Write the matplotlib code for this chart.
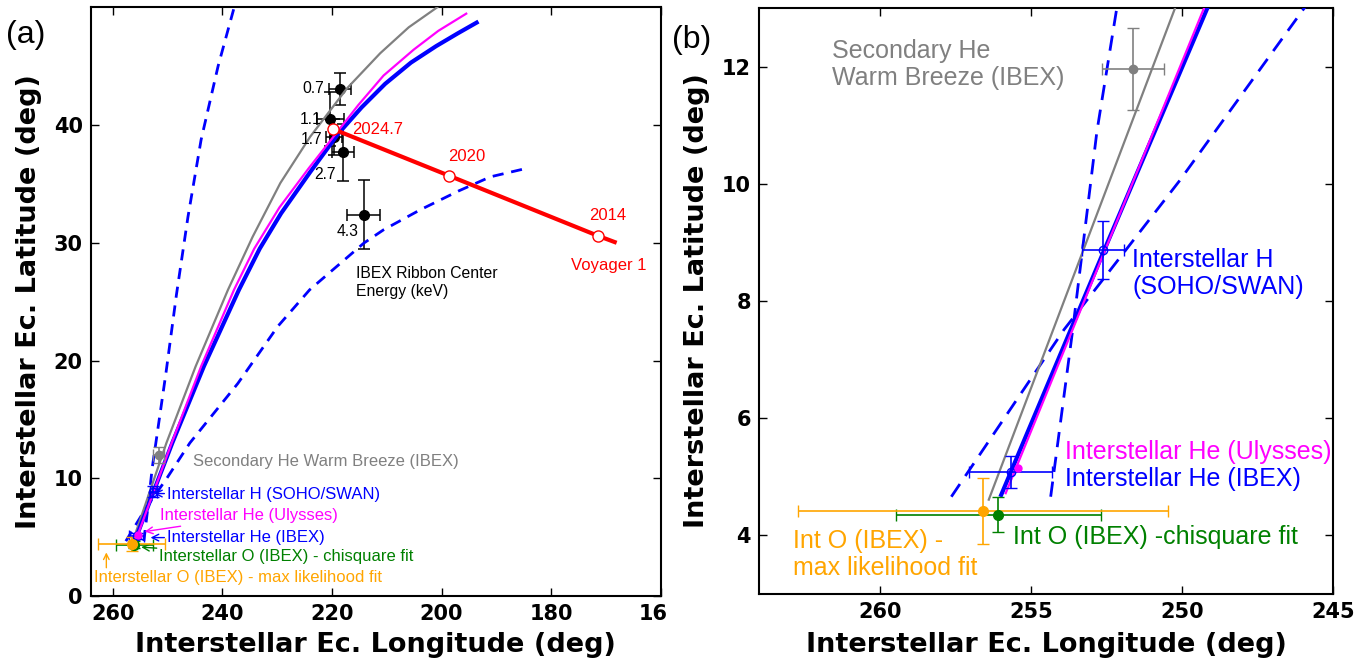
import matplotlib
matplotlib.use('Agg')
import matplotlib.pyplot as plt
from matplotlib.patches import Rectangle

SANS = ['Liberation Sans Narrow', 'Liberation Sans', 'DejaVu Sans']

# B-V plane traces, ecliptic (lon, lat) in deg
he_lon = [255.99, 252.55, 249.16, 243.4, 237.0, 233.2, 229.3, 224.0, 218.8, 214.6, 210.3,
          205.6, 201.0, 197.0, 193.6]
he_lat = [4.69, 8.9, 13.0, 19.5, 26.0, 29.5, 32.5, 36.0, 39.3, 41.5, 43.5,
          45.3, 46.7, 47.8, 48.7]
uly_lon = [255.84, 249.27, 243.9, 237.9, 234.2, 229.6, 224.3, 219.7, 215.2, 210.6, 205.1,
           200.6, 195.5]
uly_lat = [4.72, 13.0, 19.5, 26.0, 29.5, 33.0, 36.3, 39.03, 41.7, 44.2, 46.4,
           48.0, 49.46]
wb_lon = [256.40, 250.23, 244.9, 239.0, 234.5, 229.44, 224.0, 217.3, 211.2, 206.0, 200.8]
wb_lat = [4.61, 13.0, 19.5, 26.0, 30.5, 35.07, 39.0, 43.1, 46.1, 48.3, 50.0]
# uncertainty bounds of the He plane
bnd1_lon = [254.35, 253.62, 252.82, 252.16, 250.3, 248.4, 246.3, 243.9, 240.8, 237.8]
bnd1_lat = [4.66, 7.51, 10.89, 13.0, 19.0, 25.6, 32.2, 38.75, 45.0, 50.1]
bnd2_lon = [257.64, 253.91, 250.1, 245.95, 237.2, 229.9, 224.1, 214.2, 210.6, 203.9, 196.9,
            191.1, 184.7]
bnd2_lat = [4.66, 7.51, 10.04, 13.0, 18.05, 22.9, 26.0, 29.97, 31.1, 32.8, 34.4,
            35.6, 36.3]

# IBEX ribbon center vs energy (keV)
rib_energy = ['0.7', '1.1', '1.7', '2.7', '4.3']
rib_lon = [218.6, 220.3, 219.6, 218.0, 214.2]
rib_lat = [43.06, 40.5, 38.98, 37.67, 32.38]
rib_dlon = [2.0, 2.4, 1.5, 2.0, 3.0]
rib_dlat = [1.4, 2.3, 1.5, 2.4, 2.95]

# Voyager 1 direction track
v1_year = ['2024.7', '2020', '2014']
v1_lon = [219.8, 198.6, 171.5]
v1_lat = [39.66, 35.69, 30.6]
v1_track_lon = [219.8, 198.6, 171.5, 168.4]
v1_track_lat = [39.66, 35.69, 30.6, 30.06]

# interstellar flow directions: lon, lat, dlon, dlat
wb_pt = [251.62, 11.96, 1.03, 0.70]
h_pt = [252.61, 8.87, 0.70, 0.50]
he_pt = [255.68, 5.08, 1.37, 0.27]
uly_pt = [255.42, 5.15]
o_chi_pt = [256.08, 4.35, 3.40, 0.30]
o_ml_pt = [256.58, 4.42, 6.13, 0.56]

ORANGE = '#FFA500'
GREEN = '#008000'
GRAY = '#808080'


def draw_marks(ax, dash):
    ax.plot(bnd1_lon, bnd1_lat, color='blue', lw=2.0, dashes=dash, zorder=3)
    ax.plot(bnd2_lon, bnd2_lat, color='blue', lw=2.0, dashes=dash, zorder=3)
    ax.plot(wb_lon, wb_lat, color=GRAY, lw=1.6, zorder=3)
    ax.plot(he_lon, he_lat, color='blue', lw=3.0, zorder=3)
    ax.plot(uly_lon, uly_lat, color='magenta', lw=1.6, zorder=3)

    ax.errorbar(rib_lon, rib_lat, xerr=rib_dlon, yerr=rib_dlat, fmt='o', color='black',
                ms=7, capsize=4, elinewidth=1.1, capthick=1.1, zorder=2)

    ax.plot(v1_track_lon, v1_track_lat, color='red', lw=3.0, zorder=4)
    ax.plot(v1_lon, v1_lat, 'o', mfc='white', mec='red', ms=8, mew=1.0, zorder=5)

    ax.errorbar(wb_pt[0], wb_pt[1], xerr=wb_pt[2], yerr=wb_pt[3], fmt='o', color=GRAY,
                ms=6, capsize=4, elinewidth=1.2, zorder=4)
    ax.errorbar(h_pt[0], h_pt[1], xerr=h_pt[2], yerr=h_pt[3], fmt='o', color='blue',
                mfc='none', ms=6, capsize=4, elinewidth=1.2, zorder=4)
    ax.errorbar(he_pt[0], he_pt[1], xerr=he_pt[2], yerr=he_pt[3], fmt='o', color='blue',
                mfc='none', ms=6, capsize=4, elinewidth=1.2, zorder=4)
    ax.plot(uly_pt[0], uly_pt[1], 'o', color='magenta', ms=5, zorder=5)
    ax.errorbar(o_chi_pt[0], o_chi_pt[1], xerr=o_chi_pt[2], yerr=o_chi_pt[3], fmt='o',
                color=GREEN, ms=7, capsize=4, elinewidth=1.2, zorder=4)
    ax.errorbar(o_ml_pt[0], o_ml_pt[1], xerr=o_ml_pt[2], yerr=o_ml_pt[3], fmt='o',
                color=ORANGE, ms=7, capsize=4, elinewidth=1.2, zorder=4)


def style_axes(ax, xlim, ylim, xticks, yticks, ylab_x, xlab_y):
    ax.set_xlim(*xlim)
    ax.set_ylim(*ylim)
    ax.set_xticks(xticks)
    ax.set_yticks(yticks)
    ax.tick_params(direction='in', top=True, right=True, length=6, width=1.0, pad=6,
                   labelsize=15)
    for lab in ax.get_xticklabels() + ax.get_yticklabels():
        lab.set_fontweight('bold')
    for sp in ax.spines.values():
        sp.set_linewidth(1.5)
    ax.set_xlabel('Interstellar Ec. Longitude (deg)', fontsize=19.5, fontweight='bold',
                  va='center')
    ax.set_ylabel('Interstellar Ec. Latitude (deg)', fontsize=19.5, fontweight='bold',
                  va='center')
    ax.xaxis.set_label_coords(0.5, xlab_y)
    ax.yaxis.set_label_coords(ylab_x, 0.5)


fig = plt.figure(figsize=(13.7, 6.67), dpi=100)
ax_a = fig.add_axes([91 / 1370, 1 - 596 / 667, 569.7 / 1370, 588.7 / 667])
ax_b = fig.add_axes([759.3 / 1370, 1 - 594 / 667, 573.7 / 1370, 586 / 667])

# ---- (a) full view
draw_marks(ax_a, (4.0, 2.8))
style_axes(ax_a, (264, 160), (0, 50), [260, 240, 220, 200, 180, 160], [0, 10, 20, 30, 40],
           -0.109, -0.083)

for e, x, y in zip(rib_energy, [221.5, 222.0, 221.8, 219.4, 215.1],
                   [43.08, 40.5, 38.8, 35.78, 30.96]):
    ax_a.text(x, y, e, ha='right', va='center', fontsize=11.3, family=SANS)
ax_a.text(215.56, 26.64, 'IBEX Ribbon Center\nEnergy (keV)', ha='left', va='center',
          fontsize=11.3, family=SANS)

ax_a.text(216.35, 39.66, v1_year[0], color='red', ha='left', va='center', fontsize=12,
          family=SANS)
ax_a.text(195.4, 37.33, v1_year[1], color='red', ha='center', va='center', fontsize=12,
          family=SANS)
ax_a.text(169.7, 32.3, v1_year[2], color='red', ha='center', va='center', fontsize=12,
          family=SANS)
ax_a.text(169.5, 28.07, 'Voyager 1', color='red', ha='center', va='center', fontsize=12,
          family=SANS)

ax_a.text(245.4, 11.42, 'Secondary He Warm Breeze (IBEX)', color=GRAY, ha='left',
          va='center', fontsize=12, family=SANS)
arr = dict(arrowstyle='->', lw=1.0, shrinkA=0, shrinkB=0)
ax_a.annotate('Interstellar H (SOHO/SWAN)', xy=(252.5, 8.71), xytext=(250.1, 8.59),
              color='blue', ha='left', va='center', fontsize=12, family=SANS,
              arrowprops=dict(arr, color='blue'))
ax_a.annotate('Interstellar He (Ulysses)', xy=(254.2, 5.47), xytext=(251.36, 6.8),
              color='magenta', ha='left', va='center', fontsize=12, family=SANS,
              arrowprops=dict(arr, color='magenta'))
ax_a.annotate('Interstellar He (IBEX)', xy=(253.13, 4.96), xytext=(250.1, 4.96),
              color='blue', ha='left', va='center', fontsize=12, family=SANS,
              arrowprops=dict(arr, color='blue'))
ax_a.annotate('Interstellar O (IBEX) - chisquare fit', xy=(254.83, 4.15), xytext=(251.5, 3.35),
              color=GREEN, ha='left', va='center', fontsize=12, family=SANS,
              arrowprops=dict(arr, color=GREEN))
ax_a.annotate('', xy=(261.2, 3.7), xytext=(261.2, 2.4),
              arrowprops=dict(arr, color=ORANGE))
ax_a.text(263.4, 1.6, 'Interstellar O (IBEX) - max likelihood fit', color=ORANGE,
          ha='left', va='center', fontsize=12, family=SANS)

# ---- (b) zoom on the flow directions
draw_marks(ax_b, (5.5, 3.5))
style_axes(ax_b, (264, 245), (3, 13), [260, 255, 250, 245], [4, 6, 8, 10, 12],
           -0.1086, -0.087)

ax_b.text(261.6, 12.04, 'Secondary He\nWarm Breeze (IBEX)', color=GRAY, ha='left',
          va='center', fontsize=18, family=SANS, linespacing=1.15)
ax_b.text(251.65, 8.47, 'Interstellar H\n(SOHO/SWAN)', color='blue', ha='left',
          va='center', fontsize=18, family=SANS, linespacing=1.15)
ax_b.text(253.87, 5.43, 'Interstellar He (Ulysses)', color='magenta', ha='left',
          va='center', fontsize=18, family=SANS)
ax_b.text(253.87, 4.96, 'Interstellar He (IBEX)', color='blue', ha='left',
          va='center', fontsize=18, family=SANS)
ax_b.text(255.59, 3.98, 'Int O (IBEX) -chisquare fit', color=GREEN, ha='left',
          va='center', fontsize=18, family=SANS)
ax_b.text(262.89, 3.67, 'Int O (IBEX) -\nmax likelihood fit', color=ORANGE, ha='left',
          va='center', fontsize=18, family=SANS, linespacing=1.15)

fig.text(6 / 1370, 1 - 35 / 667, '(a)', ha='left', va='center', fontsize=23, family=SANS)
fig.text(672 / 1370, 1 - 40 / 667, '(b)', ha='left', va='center', fontsize=23, family=SANS)

# the left panel's last tick label is cut at the panel gap
fig.add_artist(Rectangle((668 / 1370, 1 - 630 / 667), 32 / 1370, 32 / 667,
                         transform=fig.transFigure, color='white', zorder=10))

fig.savefig('out.png', dpi=100)
